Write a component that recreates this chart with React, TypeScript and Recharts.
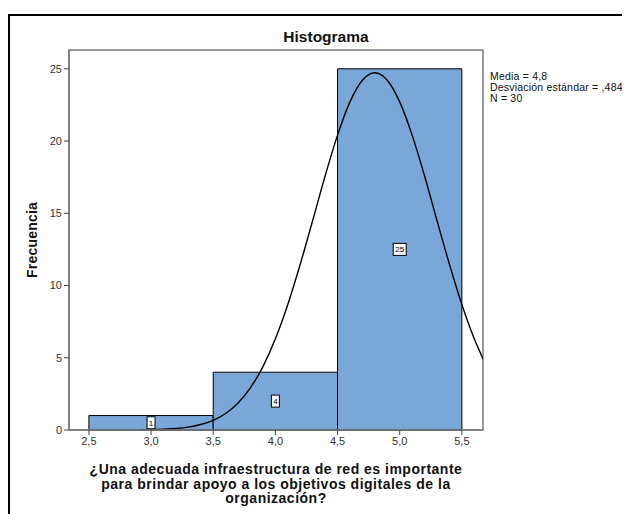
import { ComposedChart, Line, XAxis, YAxis, ReferenceArea } from 'recharts';

const binStart = [2.5, 3.5, 4.5];
const binEnd = [3.5, 4.5, 5.5];
const counts = [1, 4, 25];

// normal curve (media 4,8; desv. ,484)
const curveX = [2.9, 3.0, 3.1, 3.2, 3.3, 3.4, 3.5, 3.6, 3.7, 3.8, 3.9, 4.0, 4.1, 4.2, 4.3, 4.4, 4.5, 4.6, 4.7, 4.8, 4.9, 5.0, 5.1, 5.2, 5.3, 5.4, 5.5, 5.6, 5.67];
const curveY = [0.0, 0.02, 0.05, 0.1, 0.2, 0.38, 0.67, 1.14, 1.87, 2.93, 4.39, 6.31, 8.69, 11.47, 14.5, 17.58, 20.41, 22.71, 24.21, 24.73, 24.21, 22.71, 20.41, 17.58, 14.5, 11.47, 8.69, 6.31, 4.92];

const xTicks = [2.5, 3.0, 3.5, 4.0, 4.5, 5.0, 5.5];
const yTicks = [0, 5, 10, 15, 20, 25];
const xDomain = [2.34, 5.67];
const yDomain = [0, 26.3];

const statLines = ['Media = 4,8', 'Desviación estándar = ,484', 'N = 30'];
const xTitle = [
  '¿Una adecuada infraestructura de red es importante',
  'para brindar apoyo a los objetivos digitales de la',
  'organización?',
];

const FONT = "Arial, 'Liberation Sans', sans-serif";
const BAR_FILL = '#79a8d8';
const AXIS = '#7a7a7a';

const curveData = curveX.map((x, i) => ({ x, y: curveY[i] }));

function CountBox(props: any) {
  const { viewBox, value } = props;
  if (!viewBox) return null;
  const cx = viewBox.x + viewBox.width / 2;
  const cy = viewBox.y + viewBox.height / 2;
  const w = String(value).length > 1 ? 13 : 8;
  return (
    <g>
      <rect x={cx - w / 2} y={cy - 6} width={w} height={12} fill="#fff" stroke="#000" strokeWidth={1} />
      <text x={cx} y={cy + 3} textAnchor="middle" fontSize={8} fontFamily={FONT} fill="#000">
        {value}
      </text>
    </g>
  );
}

function XTitle(props: any) {
  const { viewBox } = props;
  const cx = viewBox.x + viewBox.width / 2;
  return (
    <text textAnchor="middle" fontFamily={FONT} fontSize={14} fontWeight="bold" fill="#111" letterSpacing={0.5}>
      {xTitle.map((t, i) => (
        <tspan key={i} x={cx} y={viewBox.y + 44 + i * 14.5}>
          {t}
        </tspan>
      ))}
    </text>
  );
}

export default function App() {
  return (
    <div
      style={{
        position: 'relative',
        marginTop: 6,
        width: 620,
        height: 498,
        borderLeft: '2px solid #000',
        borderTop: '2px solid #000',
        fontFamily: FONT,
      }}
    >
      <div
        style={{
          position: 'absolute',
          left: 16,
          width: 600,
          top: 12,
          textAlign: 'center',
          fontSize: 15.5,
          fontWeight: 'bold',
          color: '#111',
        }}
      >
        Histograma
      </div>
      <div
        style={{
          position: 'absolute',
          left: 480,
          top: 55,
          fontSize: 10.5,
          letterSpacing: 0.2,
          lineHeight: '11px',
          color: '#111',
          whiteSpace: 'nowrap',
        }}
      >
        {statLines.map((s) => (
          <div key={s}>{s}</div>
        ))}
      </div>
      <ComposedChart
        width={620}
        height={498}
        data={curveData}
        margin={{ top: 34, right: 147, bottom: 54, left: 0 }}
      >
        <XAxis
          dataKey="x"
          type="number"
          domain={xDomain}
          ticks={xTicks}
          allowDataOverflow
          tickFormatter={(v: number) => v.toFixed(1).replace('.', ',')}
          tick={{ fontSize: 11, fill: '#333', fontFamily: FONT }}
          tickSize={5}
          axisLine={{ stroke: AXIS, strokeWidth: 1.5 }}
          tickLine={{ stroke: '#444' }}
          height={30}
          label={{ content: XTitle }}
        />
        <YAxis
          type="number"
          domain={yDomain}
          ticks={yTicks}
          allowDataOverflow
          width={59}
          tick={{ fontSize: 11, fill: '#333', fontFamily: FONT }}
          tickSize={5}
          axisLine={{ stroke: AXIS, strokeWidth: 1.5 }}
          tickLine={{ stroke: '#444' }}
          label={{
            value: 'Frecuencia',
            angle: -90,
            position: 'insideLeft',
            offset: 22,
            style: {
              textAnchor: 'middle',
              fontSize: 14,
              fontWeight: 'bold',
              fill: '#111',
              fontFamily: FONT,
              letterSpacing: 0.2,
            },
          }}
        />
        <ReferenceArea
          x1={xDomain[0]}
          x2={xDomain[1]}
          y1={yDomain[0]}
          y2={yDomain[1]}
          fill="none"
          stroke={AXIS}
          strokeWidth={1.5}
          ifOverflow="visible"
        />
        {counts.map((c, i) => (
          <ReferenceArea
            key={i}
            x1={binStart[i]}
            x2={binEnd[i]}
            y1={0}
            y2={c}
            fill={BAR_FILL}
            fillOpacity={1}
            stroke="#000"
            strokeWidth={1}
            ifOverflow="visible"
            label={{ content: CountBox, value: c }}
          />
        ))}
        <Line
          dataKey="y"
          type="monotone"
          stroke="#000"
          strokeWidth={1.4}
          dot={false}
          isAnimationActive={false}
        />
      </ComposedChart>
    </div>
  );
}
